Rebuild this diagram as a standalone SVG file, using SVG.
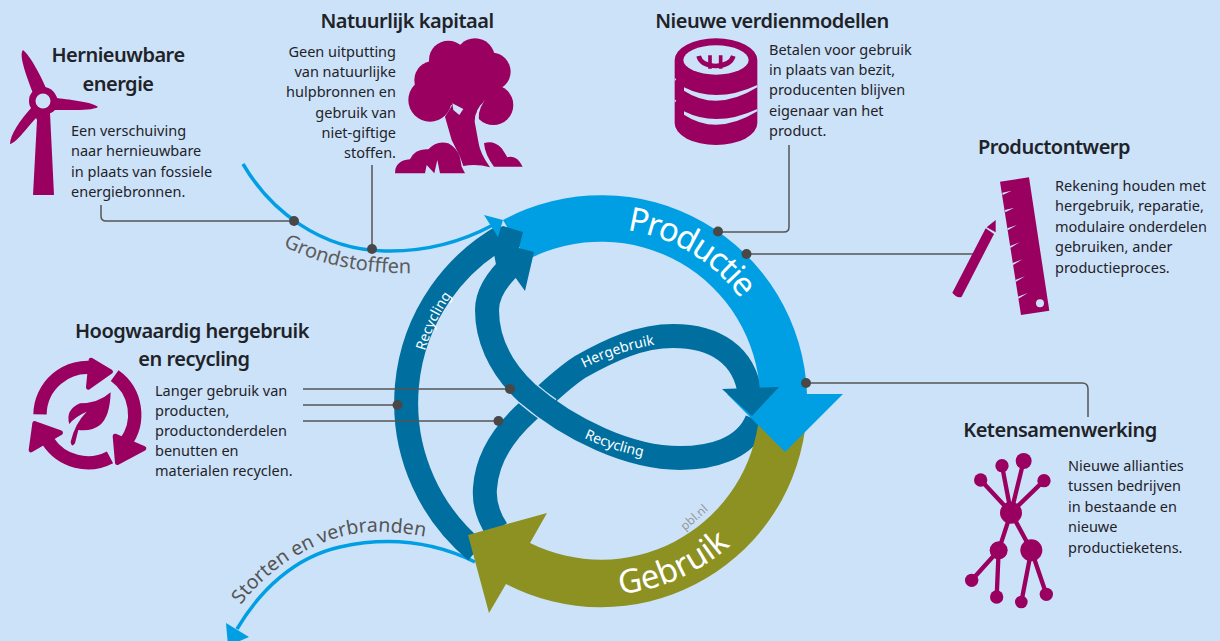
<svg xmlns="http://www.w3.org/2000/svg" xmlns:xlink="http://www.w3.org/1999/xlink" width="1220" height="641" viewBox="0 0 1220 641">
<style>
text{font-family:"Noto Sans","Open Sans","Liberation Sans",sans-serif;fill:#1f2328}
.h{font-size:20px;font-weight:600;text-anchor:middle;letter-spacing:-.5px}
.b{font-size:14.5px}
.r{text-anchor:end}
.ic{fill:#99005f}
.icb{fill:#cce2f9}
.l{fill:none;stroke:#555;stroke-width:1.5}
.d{fill:#484848}
.w{fill:#fff;font-size:14px}
.g{fill:#5c5c5c}
.s{fill:none;stroke:#006fa0;stroke-width:24}
</style>
<defs>
<path id="pProd" d="M627 230A173 173 0 0 1 774 401"/>
<path id="pGeb" d="M620 594A194 194 0 0 0 795 401"/>
<path id="pRec1" d="M425 351A183 183 0 0 1 601 218"/>
<path id="pHer" d="M584 368Q620 350 659 344"/>
<path id="pRec2" d="M584 438Q615 452 650 458"/>
<path id="pGr" d="M283 246Q340 275 414 273"/>
<path id="pSt" d="M241 605C270 565 330 528 385 532Q410 533 430 538"/>
<path id="recPath" d="M757 420C745 450 710 458 680 458C630 458 570 430 527 393C497 365 487 335 487 310C487 295 497 278 515 262"/>
<clipPath id="cross"><circle cx="527" cy="393" r="30"/></clipPath>
</defs>
<rect width="1220" height="641" fill="#cce2f9"/>

<g id="flows">
<path id="storten" d="M475 562C430 540 385 537 340 547C295 557 260 590 237 629" fill="none" stroke="#009fe3" stroke-width="3.5"/>
<polygon points="226,623 249,637 228,646" fill="#009fe3"/>
<path id="recycling-outer" class="s" d="M476 551A192 192 0 0 1 505 235"/>
<path id="hergebruik" class="s" d="M497 530C487 515 484 500 485 488C487 458 505 432 527 412C545 396 560 380 580 367C610 350 640 336 673 336C715 336 745 355 750 395"/>
<g clip-path="url(#cross)"><use href="#recPath" fill="none" stroke="#cce2f9" stroke-width="26.500"/></g>
<use id="recycling-inner" href="#recPath" class="s"/>
<path id="gebruik" d="M805 430A206 206 0 0 1 506 584L489 613L468 535L547 513L530 543A159 159 0 0 0 758 425Z" fill="#8c9122"/>
<path id="productie" d="M503 220A206 206 0 0 1 807 394H843L785 452L727 394H760A159 159 0 0 0 527 260Z" fill="#009fe3"/>
<polygon points="503,226 523,232 519,248 534,252 525,291 515,277 497,270 490,232" fill="#006fa0"/>
<polygon points="722,389 779,387 752,416" fill="#006fa0"/>
<path id="grondstoffen" d="M243 164C270 210 320 250 385 251C430 252 465 240 493 225" fill="none" stroke="#009fe3" stroke-width="3.5"/>
<polygon points="484,215 503,220 498,237" fill="#009fe3"/>
</g>

<g id="connectors">
<path class="l" d="M101 205V216Q101 221 106 221H294"/>
<path class="l" d="M372 165V249"/>
<path class="l" d="M789 145V227Q789 232 784 232H718"/>
<path class="l" d="M975 254H747"/>
<path class="l" d="M806 383H1082Q1088 383 1088 389V417"/>
<path class="l" d="M303 389H510M303 405H397M303 421H498"/>
<g class="d">
<circle cx="294" cy="221" r="5"/><circle cx="372" cy="249" r="5"/><circle cx="718" cy="231.500" r="5"/><circle cx="746.500" cy="254" r="5"/><circle cx="806" cy="383" r="5"/><circle cx="510" cy="389" r="5"/><circle cx="397.500" cy="405" r="5"/><circle cx="498.500" cy="421" r="5"/>
</g>
</g>

<g id="flow-labels">
<text style="fill:#fff;font-size:33px;letter-spacing:-1.5px"><textPath href="#pProd">Productie</textPath></text>
<text style="fill:#fff;font-size:33px"><textPath href="#pGeb">Gebruik</textPath></text>
<text class="w"><textPath href="#pRec1">Recycling</textPath></text>
<text class="w"><textPath href="#pHer">Hergebruik</textPath></text>
<text class="w"><textPath href="#pRec2">Recycling</textPath></text>
<text class="g" style="font-size:20px"><textPath href="#pGr">Grondstofffen</textPath></text>
<text class="g" style="font-size:19.500px;fill:#555"><textPath href="#pSt">Storten en verbranden</textPath></text>
<text transform="translate(685 531) rotate(-42)" style="font-size:12px;fill:#9a9a9a">pbl.nl</text>
</g>

<g id="node-energie">
<path class="ic" d="M23 50C30 55 42 78 46 88C52 92 56 95 57 98C72 100 92 102 98 107C92 111 70 110 55 110C52 113 50 113 50 113L54 195H33L37 120L36 118C25 130 16 143 10 144C10 135 20 120 32 107C28 100 30 95 33 93C28 80 18 55 23 50Z"/>
<circle class="ic" cx="43" cy="101" r="14"/><circle class="icb" cx="43" cy="101" r="7.500"/>
<text class="h" x="118" y="62">Hernieuwbare</text><text class="h" x="118" y="91">energie</text>
<text class="b" x="71" y="136">Een verschuiving</text><text class="b" x="71" y="156">naar hernieuwbare</text><text class="b" x="71" y="177">in plaats van fossiele</text><text class="b" x="71" y="197">energiebronnen.</text>
</g>

<g id="node-kapitaal">
<g transform="translate(380 30) scale(.3333)">
<g class="ic"><circle cx="205" cy="90" r="58"/><circle cx="285" cy="85" r="60"/><circle cx="335" cy="125" r="57"/><circle cx="160" cy="150" r="57"/><circle cx="150" cy="210" r="65"/><circle cx="340" cy="225" r="60"/><circle cx="240" cy="150" r="80"/></g>
<path class="icb" d="M314 211Q283 240 284 275L293 300L300 282Q288 250 314 211Z"/>
<path class="ic" d="M195 260L215 330Q225 350 240 380L250 408Q290 400 330 412Q300 370 296 340L284 275Q285 235 312 215L240 190Z"/>
<polygon class="icb" points="217,220 250,237 238,255 220,240"/>
<path class="ic" d="M312 340Q340 330 365 355Q375 370 382 382Q410 372 428 410H342Q315 375 312 340Z"/>
<path class="ic" d="M45 430Q45 392 90 388Q105 355 145 358Q170 330 205 340Q232 355 240 382L245 410L255 430H180L172 390L163 430L140 405L135 430Z"/>
</g>
<text class="h" x="407" y="28">Natuurlijk kapitaal</text>
<text class="b r" x="396" y="57">Geen uitputting</text><text class="b r" x="396" y="77">van natuurlijke</text><text class="b r" x="396" y="97">hulpbronnen en</text><text class="b r" x="396" y="118">gebruik van</text><text class="b r" x="396" y="138">niet-giftige</text><text class="b r" x="396" y="158">stoffen.</text>
</g>

<g id="node-verdienmodellen">
<g transform="translate(660 30) scale(.3333)">
<path class="ic" d="M44 90A124 65 0 0 1 292 90V280A124 65 0 0 1 44 280Z"/>
<ellipse class="icb" cx="168" cy="90" rx="98" ry="44"/>
<path d="M116 78Q122 106 167 108Q212 106 220 78" fill="none" stroke="#99005f" stroke-width="14"/>
<path d="M150 76V116M182 76V116" stroke="#99005f" stroke-width="11"/>
<path class="icb" d="M72 172Q170 222 292 165V172Q170 247 72 182Z"/>
<path class="icb" d="M72 244Q170 294 292 237V244Q170 319 72 254Z"/>
<path class="icb" d="M44 144L49 148L44 154ZM44 208L49 212L44 218Z"/>
</g>
<text class="h" x="772" y="28">Nieuwe verdienmodellen</text>
<text class="b" x="769" y="55">Betalen voor gebruik</text><text class="b" x="769" y="75">in plaats van bezit,</text><text class="b" x="769" y="95">producenten blijven</text><text class="b" x="769" y="116">eigenaar van het</text><text class="b" x="769" y="136">product.</text>
</g>

<g id="node-productontwerp">
<g transform="translate(940 170) scale(.3333)">
<polygon class="ic" points="180,35 267,22 328,422 243,435"/>
<g class="icb"><polygon points="187,68 215,62 188,75"/><polygon points="195,120 223,113 196,127"/><polygon points="202,175 231,165 203,181"/><polygon points="210,228 239,217 211,234"/><polygon points="218,279 247,268 219,285"/><polygon points="226,330 255,319 227,336"/><polygon points="234,380 263,369 235,386"/></g>
<circle class="icb" cx="300" cy="400" r="12"/>
<path class="ic" d="M137 175L162 192L65 380Q52 386 37 368Z"/>
<polygon class="ic" points="140,172 167,150 167,187"/>
</g>
<text class="h" x="1054" y="154">Productontwerp</text>
<text class="b" x="1055" y="191">Rekening houden met</text><text class="b" x="1055" y="211">hergebruik, reparatie,</text><text class="b" x="1055" y="232">modulaire onderdelen</text><text class="b" x="1055" y="252">gebruiken, ander</text><text class="b" x="1055" y="273">productieproces.</text>
</g>

<g id="node-hergebruik">
<g transform="translate(20 360) scale(.3333)">
<g fill="none" stroke="#99005f" stroke-width="40"><path d="M60 163A143 143 0 0 1 225 24"/><path d="M284 47A143 143 0 0 1 315 250"/><path d="M270 292A143 143 0 0 1 85 245"/></g>
<g class="ic" stroke="#99005f" stroke-width="14" stroke-linejoin="round"><polygon points="213,0 272,35 205,82"/><polygon points="285,228 372,265 292,308"/><polygon points="44,190 122,218 33,270"/></g>
<path class="ic" d="M272 97Q270 170 240 195Q215 215 175 210L165 250Q155 265 152 245Q165 190 200 155Q165 170 148 192Q135 150 180 130Q235 130 272 97Z"/>
</g>
<text class="h" x="192" y="338">Hoogwaardig hergebruik</text><text class="h" x="194" y="366">en recycling</text>
<text class="b" x="155" y="396">Langer gebruik van</text><text class="b" x="155" y="416">producten,</text><text class="b" x="155" y="436">productonderdelen</text><text class="b" x="155" y="456">benutten en</text><text class="b" x="155" y="476">materialen recyclen.</text>
</g>

<g id="node-ketensamenwerking">
<g transform="translate(955 445) scale(.3333)">
<path d="M168 203L77 105M168 203L141 62M168 203L206 48M168 203L267 107M168 203L131 316M168 203L229 316M131 316L50 406M131 316L125 456M229 316L199 471M229 316L274 448" stroke="#99005f" stroke-width="13" fill="none"/>
<g class="ic"><circle cx="168" cy="203" r="33"/><circle cx="77" cy="105" r="20"/><circle cx="141" cy="62" r="20"/><circle cx="206" cy="48" r="24"/><circle cx="267" cy="107" r="20"/><circle cx="131" cy="316" r="27"/><circle cx="229" cy="316" r="33"/><circle cx="50" cy="406" r="20"/><circle cx="125" cy="456" r="20"/><circle cx="199" cy="471" r="19"/><circle cx="274" cy="448" r="20"/></g>
</g>
<text class="h" x="1060" y="437">Ketensamenwerking</text>
<text class="b" x="1068" y="471">Nieuwe allianties</text><text class="b" x="1068" y="491">tussen bedrijven</text><text class="b" x="1068" y="512">in bestaande en</text><text class="b" x="1068" y="532">nieuwe</text><text class="b" x="1068" y="553">productieketens.</text>
</g>
</svg>
